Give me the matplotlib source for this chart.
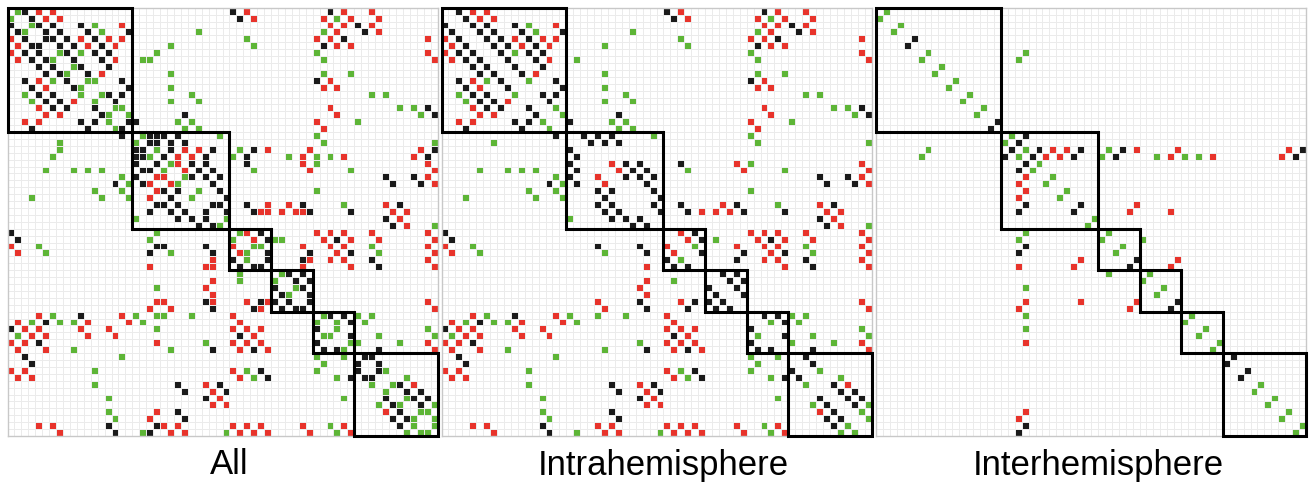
import numpy as np
import matplotlib.pyplot as plt
from matplotlib.colors import ListedColormap
from matplotlib.patches import Rectangle

n_regions = 62
module_sizes = [18, 14, 6, 6, 6, 12]
panel_titles = ['All', 'Intrahemisphere', 'Interhemisphere']

# links stored once (i < j); the matrix is symmetric
green_links = [
    # homotopic / cross-hemisphere
    (0, 1), (2, 3), (6, 7), (8, 9), (10, 11), (12, 13), (14, 15), (18, 19), (20, 21),
    (22, 23), (24, 25), (26, 27), (30, 31), (32, 33), (34, 35), (38, 39), (40, 41),
    (44, 45), (46, 47), (48, 49), (54, 55), (56, 57), (58, 59), (60, 61),
    (6, 21), (7, 20), (20, 33), (21, 32), (21, 40), (21, 44), (21, 46), (33, 38),
    # same hemisphere
    (2, 12), (3, 13), (6, 10), (10, 12), (15, 17), (14, 16),
    (3, 27), (4, 34), (5, 35), (5, 23), (7, 19), (9, 23), (11, 23), (12, 26), (13, 27),
    (13, 23), (16, 24), (16, 26), (17, 25), (17, 27), (18, 30),
    (1, 47), (3, 45), (6, 44), (7, 45), (9, 45), (9, 49), (12, 52), (12, 54), (14, 56),
    (14, 58), (15, 59), (16, 50), (18, 44), (19, 45), (19, 61),
    (22, 44), (23, 35), (23, 49), (26, 44), (28, 48), (31, 61), (34, 52), (35, 53),
    (33, 39), (34, 36), (45, 47),
    (44, 50), (44, 52), (45, 51), (47, 53), (48, 56), (46, 60), (47, 61), (48, 50),
    (52, 54), (53, 57), (57, 61), (58, 60), (59, 61),
]
red_links = [
    (20, 25), (20, 27), (20, 37), (20, 43), (20, 59), (21, 24), (21, 26), (21, 42),
    (21, 48), (21, 58), (28, 37), (29, 36), (29, 42), (36, 43), (37, 42),
    (0, 4), (0, 6), (1, 5), (1, 7), (2, 16), (4, 10), (4, 14), (4, 16), (5, 11),
    (5, 15), (7, 15), (9, 13), (22, 24), (23, 25), (32, 34), (33, 35),
    (0, 34), (1, 35), (0, 48), (0, 52), (1, 45), (1, 49), (1, 53), (2, 46), (2, 48),
    (2, 52), (3, 47), (3, 53), (4, 44), (4, 46), (4, 60), (5, 47), (5, 49), (6, 60),
    (7, 61), (10, 46), (11, 45), (11, 47), (14, 46), (15, 47), (16, 44), (17, 45),
    (22, 42), (22, 60), (23, 43), (23, 61), (24, 60), (25, 61), (28, 40), (28, 54),
    (29, 37), (29, 39), (29, 41), (29, 55), (29, 57), (30, 56), (31, 57),
    (32, 44), (32, 46), (32, 48), (32, 52), (32, 60), (33, 45), (33, 49), (33, 53),
    (33, 61), (34, 42), (34, 46), (34, 48), (34, 60), (35, 47), (35, 61), (36, 46),
    (36, 48), (36, 60), (37, 49), (37, 61), (42, 60), (43, 61), (48, 60), (49, 61),
    (54, 58),
]
black_links = [
    (4, 5), (16, 17), (18, 21), (19, 20), (20, 23), (20, 29), (20, 35), (21, 22),
    (21, 28), (21, 34), (21, 60), (20, 61), (28, 29), (36, 37), (42, 43), (50, 51),
    (52, 53),
    (0, 2), (1, 3), (2, 4), (2, 6), (2, 10), (3, 5), (3, 7), (3, 11), (3, 17), (4, 6),
    (4, 8), (4, 12), (5, 7), (5, 9), (5, 13), (6, 8), (6, 12), (6, 14), (7, 9),
    (7, 13), (8, 10), (8, 14), (9, 11), (10, 16), (11, 17), (12, 14), (12, 16),
    (13, 15), (16, 18),
    (18, 20), (18, 22), (18, 24), (19, 21), (19, 23), (19, 25), (22, 26), (22, 28),
    (23, 27), (23, 29), (24, 26), (24, 28), (24, 30), (25, 29), (26, 30), (27, 31),
    (28, 30), (29, 31),
    (32, 36), (33, 37), (35, 37),
    (38, 40), (38, 42), (39, 41), (39, 43), (40, 42), (41, 43),
    (44, 46), (44, 48), (45, 49), (47, 49),
    (50, 52), (51, 53), (54, 56), (55, 57), (55, 59), (56, 58), (56, 60), (57, 59),
    (0, 32), (1, 33), (0, 46), (2, 50), (3, 51), (4, 48), (5, 45), (10, 44), (14, 60),
    (15, 61), (15, 25), (22, 34), (24, 54), (24, 58), (25, 55), (25, 59), (28, 34),
    (28, 42), (28, 56), (29, 35), (29, 43), (29, 49), (30, 54), (31, 55), (33, 47),
    (35, 43), (35, 49), (36, 42), (36, 52), (37, 53), (49, 53),
]


def build_matrix():
    m = np.zeros((n_regions, n_regions), dtype=int)
    for code, links in ((1, green_links), (2, red_links), (3, black_links)):
        for i, j in links:
            m[i, j] = code
            m[j, i] = code
    return m


conn = build_matrix()
rows, cols = np.indices(conn.shape)
# regions alternate left/right, so an even index sum means same hemisphere
same_side = (rows + cols) % 2 == 0
panels = [conn, np.where(same_side, conn, 0), np.where(~same_side, conn, 0)]

cmap = ListedColormap(['#ffffff', '#5db536', '#e8332b', '#1a1a1a'])

W, H = 1311, 484
fig = plt.figure(figsize=(W / 100, H / 100), dpi=100)
lefts = [7.5, 441.5, 876]
for left, mat, title in zip(lefts, panels, panel_titles):
    ax = fig.add_axes([left / W, (H - 436) / H, 430 / W, 428.3 / H])
    ax.pcolormesh(mat, cmap=cmap, vmin=-0.5, vmax=3.5,
                  edgecolors='#ebebeb', linewidth=0.5)
    ax.set_xlim(0, n_regions)
    ax.set_ylim(n_regions, 0)
    start = 0
    for size in module_sizes:
        ax.add_patch(Rectangle((start, start), size, size, fill=False,
                               ec='black', lw=2.2, clip_on=False, zorder=5))
        start += size
    ax.set_xticks([])
    ax.set_yticks([])
    for s in ax.spines.values():
        s.set_color('#c8c8c8')
        s.set_linewidth(1)
    fig.text((left + 222) / W, (H - 465) / H, title, ha='center', va='center',
             fontsize=25, family='Liberation Sans')

fig.savefig('out.png', dpi=100)
